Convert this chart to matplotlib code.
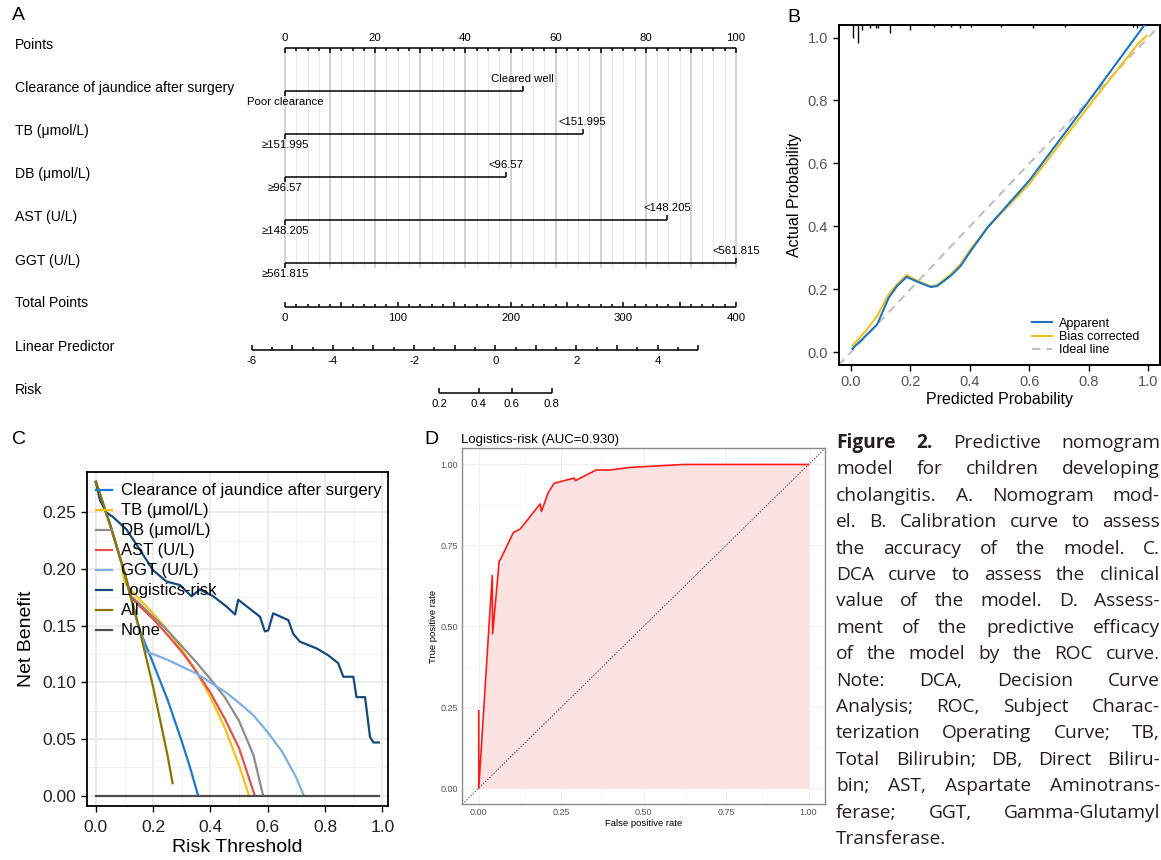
import numpy as np
import matplotlib
matplotlib.use('Agg')
import matplotlib.pyplot as plt
from matplotlib.transforms import blended_transform_factory
from matplotlib.ticker import FormatStrFormatter, MultipleLocator
import matplotlib.font_manager as fm

W, H = 1161, 860
fig = plt.figure(figsize=(W / 100, H / 100), dpi=100)

avail = {f.name for f in fm.fontManager.ttflist}
NARROW = [f for f in ['Liberation Sans Narrow', 'Liberation Sans', 'DejaVu Sans'] if f in avail]
SANS = [f for f in ['Liberation Sans', 'DejaVu Sans'] if f in avail]
CAP = [f for f in ['Open Sans', 'Roboto', 'DejaVu Sans'] if f in avail]
plt.rcParams['font.family'] = SANS


def px_axes(l, t, r, b):
    return fig.add_axes([l / W, 1 - b / H, (r - l) / W, (b - t) / H])


# ------------------------------------------------------------------ data
# A. nomogram
nomo_vars = ['Clearance of jaundice after surgery', 'TB (μmol/L)', 'DB (μmol/L)',
             'AST (U/L)', 'GGT (U/L)']
nomo_low_labels = ['Poor clearance', '≥151.995', '≥96.57', '≥148.205', '≥561.815']
nomo_high_labels = ['Cleared well', '<151.995', '<96.57', '<148.205', '<561.815']
nomo_points = [52.7, 66.0, 49.1, 84.8, 100.0]
points_ticks = [0, 20, 40, 60, 80, 100]
total_ticks = [0, 100, 200, 300, 400]
lp_ticks = [-6, -4, -2, 0, 2, 4]
lp_range = [-6, 5]
risk_ticks = [0.2, 0.4, 0.6, 0.8]
lp_at_zero_total = -5.18
total_per_lp = 36.0

# B. calibration
cal_pred_app = [0.005, 0.054, 0.088, 0.127, 0.155, 0.187, 0.223, 0.268, 0.29, 0.336,
                0.369, 0.403, 0.46, 0.6, 0.798, 0.987]
cal_app = [0.011, 0.056, 0.088, 0.173, 0.21, 0.239, 0.224, 0.207, 0.21, 0.243,
           0.274, 0.322, 0.397, 0.546, 0.796, 1.04]
cal_pred_bc = [0.005, 0.054, 0.088, 0.127, 0.155, 0.187, 0.223, 0.268, 0.29, 0.336,
               0.369, 0.403, 0.46, 0.6, 0.798, 0.967, 0.995]
cal_bc = [0.021, 0.072, 0.115, 0.184, 0.216, 0.245, 0.227, 0.209, 0.213, 0.248,
          0.28, 0.328, 0.397, 0.535, 0.78, 0.982, 1.005]
rug_x = [0.006, 0.025, 0.036, 0.064, 0.084, 0.092, 0.131, 0.199, 0.278, 0.336, 0.368,
         0.403, 0.505, 0.612, 0.72, 0.95, 0.962]
rug_len = [0.041, 0.057, 0.016, 0.010, 0.010, 0.010, 0.025, 0.016, 0.006, 0.006, 0.010,
           0.006, 0.006, 0.010, 0.006, 0.006, 0.010]

# C. decision curves
dca_names = ['Clearance of jaundice after surgery', 'TB (μmol/L)', 'DB (μmol/L)',
             'AST (U/L)', 'GGT (U/L)', 'Logistics-risk', 'All', 'None']
dca_colors = ['#1f78c8', '#f2c314', '#8c8c8c', '#e0534b', '#7eaee2', '#174a7c',
              '#8b7400', '#4d4d4d']
dca_t = [
    [0, 0.05, 0.1, 0.15, 0.2, 0.25, 0.3, 0.33, 0.357],
    [0, 0.05, 0.09, 0.1, 0.15, 0.2, 0.25, 0.3, 0.35, 0.4, 0.45, 0.5, 0.535],
    [0, 0.05, 0.1, 0.12, 0.15, 0.2, 0.25, 0.3, 0.35, 0.4, 0.45, 0.5, 0.55, 0.584],
    [0, 0.05, 0.1, 0.12, 0.15, 0.2, 0.25, 0.3, 0.35, 0.4, 0.45, 0.5, 0.555],
    [0, 0.05, 0.1, 0.15, 0.175, 0.2, 0.25, 0.3, 0.35, 0.4, 0.45, 0.5, 0.55, 0.6, 0.65, 0.7, 0.726],
    [0, 0.014, 0.037, 0.06, 0.107, 0.154, 0.2, 0.247, 0.293, 0.334, 0.363, 0.41, 0.456,
     0.486, 0.497, 0.573, 0.59, 0.602, 0.619, 0.672, 0.689, 0.712, 0.771, 0.811, 0.846,
     0.864, 0.899, 0.91, 0.94, 0.957, 0.969, 0.988],
    [0, 0.05, 0.1, 0.15, 0.2, 0.25, 0.268],
    [0, 0.99],
]
dca_nb = [
    [0.277, 0.239, 0.197, 0.148, 0.117, 0.085, 0.048, 0.024, 0.0],
    [0.277, 0.239, 0.205, 0.188, 0.174, 0.161, 0.146, 0.129, 0.110, 0.087, 0.060, 0.027, 0.0],
    [0.277, 0.239, 0.197, 0.177, 0.170, 0.158, 0.146, 0.132, 0.118, 0.103, 0.087, 0.066, 0.036, 0.0],
    [0.277, 0.239, 0.197, 0.176, 0.168, 0.156, 0.142, 0.127, 0.110, 0.091, 0.068, 0.042, 0.0],
    [0.277, 0.239, 0.197, 0.149, 0.127, 0.125, 0.120, 0.114, 0.108, 0.100, 0.092, 0.082,
     0.071, 0.056, 0.039, 0.016, 0.0],
    [0.277, 0.261, 0.25, 0.246, 0.235, 0.217, 0.199, 0.189, 0.186, 0.176, 0.182, 0.176,
     0.167, 0.16, 0.173, 0.158, 0.145, 0.146, 0.161, 0.155, 0.143, 0.136, 0.13, 0.124,
     0.117, 0.105, 0.105, 0.087, 0.087, 0.052, 0.047, 0.047],
    [0.277, 0.239, 0.197, 0.149, 0.096, 0.036, 0.011],
    [0.0, 0.0],
]

# D. ROC
roc_fpr = [0.0, 0.0, 0.032, 0.041, 0.042, 0.062, 0.065, 0.105, 0.125, 0.186, 0.19, 0.211,
           0.229, 0.289, 0.293, 0.356, 0.398, 0.459, 0.621, 1.0]
roc_tpr = [0.239, 0.0, 0.518, 0.657, 0.477, 0.703, 0.705, 0.79, 0.80, 0.878, 0.855, 0.914,
           0.942, 0.958, 0.95, 0.983, 0.983, 0.991, 1.0, 1.0]
roc_title = 'Logistics-risk (AUC=0.930)'

caption_lines = [
    'Figure 2. Predictive nomogram',
    'model for children developing',
    'cholangitis. A. Nomogram mod-',
    'el. B. Calibration curve to assess',
    'the accuracy of the model. C.',
    'DCA curve to assess the clinical',
    'value of the model. D. Assess-',
    'ment of the predictive efficacy',
    'of the model by the ROC curve.',
    'Note: DCA, Decision Curve',
    'Analysis; ROC, Subject Charac-',
    'terization Operating Curve; TB,',
    'Total Bilirubin; DB, Direct Biliru-',
    'bin; AST, Aspartate Aminotrans-',
    'ferase; GGT, Gamma-Glutamyl',
    'Transferase.',
]

# ------------------------------------------------------------------ A. nomogram
axA = px_axes(0, 0, 770, 420)
ppx = 451 / 100.0  # pixels per point unit
axA.set_xlim(-285 / ppx, (770 - 285) / ppx)
axA.set_ylim(420, 0)
axA.axis('off')
lab = blended_transform_factory(axA.transAxes, axA.transData)

y_points, y_rows = 48, [91, 134, 177, 220, 263]
y_total, y_lp, y_risk = 307, 350, 393
kw_line = dict(color='black', lw=1.1, solid_capstyle='butt')
tick_fs = 8.2

# grid
for v in np.arange(0, 100.01, 2.5):
    major = abs(v % 10) < 1e-9
    axA.plot([v, v], [y_points, y_rows[-1] + 4], color='#cfcfcf' if major else '#e8e8e8',
             lw=1.3 if major else 0.8, zorder=0)
# points axis
axA.plot([0, 100], [y_points, y_points], **kw_line)
for v in np.arange(0, 100.01, 2.5):
    major = abs(v % 10) < 1e-9
    axA.plot([v, v], [y_points, y_points + (5 if major else 3)], **kw_line)
for v in points_ticks:
    axA.text(v, y_points - 10, str(v), ha='center', va='center', fontsize=tick_fs, family=NARROW)

# variables
for yv, pts, lo, hi in zip(y_rows, nomo_points, nomo_low_labels, nomo_high_labels):
    axA.plot([0, pts], [yv, yv], **kw_line)
    axA.plot([0, 0], [yv, yv + 5], **kw_line)
    axA.plot([pts, pts], [yv, yv - 5], **kw_line)
    axA.text(0, yv + 11, lo, ha='center', va='center', fontsize=tick_fs, family=NARROW)
    axA.text(pts, yv - 12, hi, ha='center', va='center', fontsize=tick_fs, family=NARROW)

# total points
tp2x = lambda tp: tp / 4.0
axA.plot([tp2x(total_ticks[0]), tp2x(total_ticks[-1])], [y_total, y_total], **kw_line)
for v in np.arange(0, 400.01, 10):
    major = abs(v % 50) < 1e-9
    axA.plot([tp2x(v)] * 2, [y_total, y_total - (5 if major else 3)], **kw_line)
for v in total_ticks:
    axA.text(tp2x(v), y_total + 11, str(v), ha='center', va='center', fontsize=tick_fs, family=NARROW)

# linear predictor
lp2x = lambda lp: tp2x((lp - lp_at_zero_total) * total_per_lp)
axA.plot([lp2x(lp_range[0]), lp2x(lp_range[1])], [y_lp, y_lp], **kw_line)
for v in np.arange(lp_range[0], lp_range[1] + 0.01, 0.5):
    major = abs(v % 1) < 1e-9
    axA.plot([lp2x(v)] * 2, [y_lp, y_lp - (5 if major else 3)], **kw_line)
for v in lp_ticks:
    axA.text(lp2x(v), y_lp + 11, str(v), ha='center', va='center', fontsize=tick_fs, family=NARROW)

# risk
r2x = lambda p: lp2x(np.log(p / (1 - p)))
axA.plot([r2x(risk_ticks[0]), r2x(risk_ticks[-1])], [y_risk, y_risk], **kw_line)
for v in risk_ticks:
    axA.plot([r2x(v)] * 2, [y_risk, y_risk - 5], **kw_line)
    axA.text(r2x(v), y_risk + 11, f'{v:.1f}', ha='center', va='center', fontsize=tick_fs, family=NARROW)

row_labels = ['Points'] + nomo_vars + ['Total Points', 'Linear Predictor', 'Risk']
row_label_y = [45, 88, 131, 174, 217, 261, 303, 347, 390]
for t, yv in zip(row_labels, row_label_y):
    axA.text(15 / 770, yv, t, transform=lab, ha='left', va='center', fontsize=10.1, family=NARROW)

# ------------------------------------------------------------------ B. calibration
axB = px_axes(838.5, 25, 1159.6, 365)
axB.set_xlim(-0.042, 1.038)
axB.set_ylim(-0.041, 1.04)
axB.plot([-0.042, 1.038], [-0.042, 1.038], color='#c0c0c0', lw=1.5, ls=(0, (4, 3)), label='Ideal line', zorder=1)
axB.plot(cal_pred_bc, cal_bc, color='#f2c01e', lw=1.5, label='Bias corrected', zorder=2)
axB.plot(cal_pred_app, cal_app, color='#1c75c2', lw=1.5, label='Apparent', zorder=3)
axB.vlines(rug_x, [1.04 - l for l in rug_len], 1.04, color='black', lw=1.0)
axB.set_xticks([0, 0.2, 0.4, 0.6, 0.8, 1.0])
axB.set_yticks([0, 0.2, 0.4, 0.6, 0.8, 1.0])
axB.xaxis.set_major_formatter(FormatStrFormatter('%.1f'))
axB.yaxis.set_major_formatter(FormatStrFormatter('%.1f'))
axB.tick_params(labelsize=10.5, labelcolor='#555555', length=4, width=1.0)
for s in axB.spines.values():
    s.set_linewidth(1.4)
axB.set_xlabel('Predicted Probability', fontsize=11.5, labelpad=2)
axB.set_ylabel('Actual Probability', fontsize=11.5, labelpad=4)
h, l = axB.get_legend_handles_labels()
axB.legend(h[::-1], l[::-1], loc='lower right', bbox_to_anchor=(0.965, 0.0), frameon=False,
           fontsize=9, handlelength=1.6, handletextpad=0.6, labelspacing=0.1, borderaxespad=0.3)

# ------------------------------------------------------------------ C. DCA
axC = px_axes(86.7, 471.7, 388, 805.7)
axC.set_xlim(-0.032, 1.02)
axC.set_ylim(-0.0088, 0.286)
axC.xaxis.set_major_locator(MultipleLocator(0.2))
axC.xaxis.set_minor_locator(MultipleLocator(0.1))
axC.yaxis.set_major_locator(MultipleLocator(0.05))
axC.yaxis.set_minor_locator(MultipleLocator(0.025))
axC.xaxis.set_major_formatter(FormatStrFormatter('%.1f'))
axC.yaxis.set_major_formatter(FormatStrFormatter('%.2f'))
axC.grid(which='major', color='#ebebeb', lw=1.3)
axC.grid(which='minor', color='#f2f2f2', lw=0.7)
axC.set_axisbelow(True)
axC.tick_params(which='minor', length=0)
axC.tick_params(which='major', labelsize=12.5, labelcolor='#222222', length=4, width=1.0)
axC.tick_params(axis='x', pad=6)
for s in axC.spines.values():
    s.set_linewidth(1.3)
for name, col, t, nb in zip(dca_names, dca_colors, dca_t, dca_nb):
    axC.plot(t, nb, color=col, lw=1.6, label=name)
axC.set_xlabel('Risk Threshold', fontsize=14, labelpad=3)
axC.set_ylabel('Net Benefit', fontsize=14, labelpad=5)
axC.legend(loc='upper left', bbox_to_anchor=(0.03, 0.965), frameon=False, fontsize=12,
           handlelength=1.0, handletextpad=0.5, labelspacing=0.3, borderaxespad=0, borderpad=0)

# ------------------------------------------------------------------ D. ROC
axD = px_axes(462.3, 448.3, 825, 804)
axD.set_xlim(-0.05, 1.05)
axD.set_ylim(-0.049, 1.05)
axD.xaxis.set_major_locator(MultipleLocator(0.25))
axD.xaxis.set_minor_locator(MultipleLocator(0.125))
axD.yaxis.set_major_locator(MultipleLocator(0.25))
axD.yaxis.set_minor_locator(MultipleLocator(0.125))
axD.xaxis.set_major_formatter(FormatStrFormatter('%.2f'))
axD.yaxis.set_major_formatter(FormatStrFormatter('%.2f'))
axD.grid(which='major', color='#ebebeb', lw=0.6)
axD.grid(which='minor', color='#f4f4f4', lw=0.4)
axD.set_axisbelow(True)
axD.tick_params(which='both', length=0)
axD.tick_params(labelsize=6.5, labelcolor='#555555', pad=3)
for s in axD.spines.values():
    s.set_color('#8a8a8a')
    s.set_linewidth(1.0)
axD.fill_between(roc_fpr, roc_tpr, 0, color='#fde2e2', lw=0, zorder=1)
axD.plot([-0.05, 1.05], [-0.05, 1.05], color='#555555', lw=0.7, ls=(0, (1.5, 1.5)), zorder=2)
axD.plot(roc_fpr, roc_tpr, color='#ff1a1a', lw=1.2, zorder=3)
axD.set_xlabel('False positive rate', fontsize=6.8, labelpad=1)
axD.set_ylabel('True positive rate', fontsize=6.8, labelpad=2)
axD.set_title(roc_title, loc='left', fontsize=9.5, pad=4, x=-0.003)

# ------------------------------------------------------------------ panel letters
for letter, x, y in [('A', 12, 16), ('B', 787, 18), ('C', 12, 440), ('D', 424, 440)]:
    fig.text(x / W, 1 - y / H, letter, fontsize=14, ha='left', va='center', family=SANS)

# ------------------------------------------------------------------ caption (justified)
renderer = fig.canvas.get_renderer()
left_px, right_px = 836, 1160
base0, step = 448, 26.4


def natural(fs):
    worst = 0
    for i, line in enumerate(caption_lines):
        words = line.split(' ')
        tot = 0
        for j, w in enumerate(words):
            t = fig.text(0, 0, w, fontsize=fs, family=CAP,
                         weight='bold' if (i == 0 and j < 2) else 'normal')
            tot += t.get_window_extent(renderer).width
            t.remove()
        tot += (len(words) - 1) * fs * 0.25
        worst = max(worst, tot)
    return worst


cap_fs = 13.8
while natural(cap_fs) > (right_px - left_px) and cap_fs > 9:
    cap_fs -= 0.2

for i, line in enumerate(caption_lines):
    words = line.split(' ')
    y = 1 - (base0 + i * step) / H
    texts = []
    for j, w in enumerate(words):
        bold = (i == 0 and j < 2)
        texts.append(fig.text(0, y, w, fontsize=cap_fs, family=CAP, va='baseline', ha='left',
                              weight='bold' if bold else 'normal', color='#231f20'))
    widths = [t.get_window_extent(renderer).width for t in texts]
    if i == len(caption_lines) - 1 or len(words) == 1:
        gap = cap_fs * 0.3
    else:
        gap = (right_px - left_px - sum(widths)) / (len(words) - 1)
    x = left_px
    for t, wdt in zip(texts, widths):
        t.set_x(x / W)
        x += wdt + gap

fig.savefig('out.png', dpi=100)
